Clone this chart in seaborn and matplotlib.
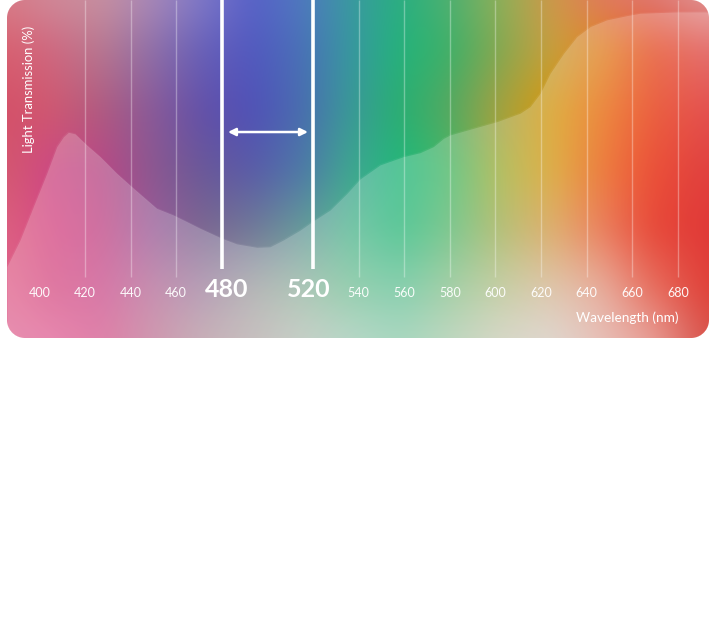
import numpy as np
import matplotlib
matplotlib.use("Agg")
import matplotlib.pyplot as plt
import matplotlib.colors as mcolors
import seaborn as sns

# ---------------- data ----------------
wavelength = [385.7, 391.5, 397.3, 403.2, 407.6, 410.5, 412.7, 415.6, 420.7, 426.6,
              433.9, 441.2, 447.1, 451.4, 458.7, 464.6, 470.4, 480.0, 486.5, 495.3,
              501.1, 507.0, 514.3, 520.1, 527.5, 534.8, 540.6, 549.4, 559.6, 566.9,
              572.8, 577.2, 580.1, 590.3, 600.6, 610.8, 615.2, 619.6, 624.0, 629.9,
              635.7, 641.6, 648.8, 657.6, 663.4, 680, 694]
transmission = [3.9, 14.0, 26.5, 39.1, 49.2, 52.9, 54.6, 54.0, 49.8, 45.4,
                39.1, 33.5, 29.1, 25.9, 23.4, 20.9, 18.4, 14.6, 12.5, 11.2,
                11.4, 14.0, 17.7, 21.2, 25.3, 31.5, 37.0, 42.3, 45.4, 46.9,
                49.2, 52.3, 53.6, 56.1, 58.6, 61.8, 64.3, 69.3, 76.9, 84.4,
                90.7, 94.5, 97.0, 98.6, 99.5, 100, 100]
tick_values = [400, 420, 440, 460, 480, 520, 540, 560, 580, 600, 620, 640, 660, 680]
grid_values = [420, 440, 460, 540, 560, 580, 600, 620, 640, 660, 680]
band = [480, 520]
x_label = "Wavelength (nm)"
y_label = "Light Transmission (%)"

# ---------------- style: background mesh colours ----------------
col_wl = np.array([386, 405, 427, 449, 471, 493, 515, 537, 559, 581, 603, 625, 647, 669, 694])
row_pct = np.array([104.5, 86, 63, 40, 18, -5, -23])
mesh = [
    ["#d87c88", "#d08898", "#c890a0", "#a888b8", "#7e78c8", "#5860c8", "#5078c0", "#3a9aa0",
     "#28b080", "#50b070", "#90b058", "#d09848", "#e07a5c", "#e07870", "#e09898"],
    ["#d86070", "#d06880", "#b87890", "#9070a8", "#6860b8", "#5258c0", "#4a70b8", "#3898a0",
     "#22b47a", "#40b068", "#88a850", "#c8a040", "#e8a050", "#ec7050", "#e47070"],
    ["#d45068", "#d05870", "#b05a80", "#8a5a98", "#6250a8", "#5050b8", "#4a6cb0", "#3a9a98",
     "#28b070", "#58a860", "#a8a040", "#e0b040", "#ee8a40", "#ec6040", "#e45050"],
    ["#d45870", "#d870a0", "#c870a0", "#8c5890", "#6a5898", "#5a5aa8", "#4e78a8", "#40a890",
     "#50c898", "#70c888", "#b8c060", "#e0b048", "#ee7e40", "#ec5038", "#e04040"],
    ["#dc6080", "#e070a0", "#d070a0", "#b080b0", "#9888a8", "#707898", "#88b0b0", "#78c8a8",
     "#58c898", "#80c890", "#b8c078", "#e0b070", "#ec8060", "#e84838", "#e03028"],
    ["#e888a8", "#e078a0", "#d878a8", "#c890b0", "#b8a0b8", "#b8b8b8", "#b0c8b8", "#98d0b0",
     "#88d0b0", "#a8d0a8", "#c8d0a8", "#e0c8b0", "#e8b0a0", "#e87060", "#e04038"],
    ["#e890b0", "#e888b0", "#e080a8", "#d098b0", "#c8b0b8", "#c8c0c0", "#c8d0c8", "#b8d8c8",
     "#a8d8c0", "#c0d8c0", "#d8d8c8", "#e0d8d0", "#e8c0b8", "#e8a098", "#d85048"],
]
veil_alpha = 0.22

W_PX, H_PX = 716, 640
CARD = (7, 0, 702, 338)  # left, top, width, height in px
XLIM = (385.79, 693.68)
YLIM = (-23, 104.5)

sns.set_theme(style="white")
plt.rcParams["font.family"] = ["Lato", "DejaVu Sans"]

fig = plt.figure(figsize=(W_PX / 100, H_PX / 100), dpi=100)
fig.patch.set_facecolor("white")
l, t, w, h = CARD
ax = fig.add_axes([l / W_PX, 1 - (t + h) / H_PX, w / W_PX, h / H_PX])
ax.set_xlim(*XLIM)
ax.set_ylim(*YLIM)
ax.axis("off")

# build anchor colours (pre-compensate anchors that sit under the white veil)
grid = np.array([[mcolors.to_rgb(c) for c in row] for row in mesh])
for i, yp in enumerate(row_pct):
    for j, xw in enumerate(col_wl):
        if yp < np.interp(xw, wavelength, transmission):
            grid[i, j] = np.clip((grid[i, j] - veil_alpha) / (1 - veil_alpha), 0, 1)

X = np.linspace(XLIM[0], XLIM[1], w)
Y = np.linspace(YLIM[1], YLIM[0], h)
tmp = np.empty((len(row_pct), w, 3))
for i in range(len(row_pct)):
    for c in range(3):
        tmp[i, :, c] = np.interp(X, col_wl, grid[i, :, c])
img = np.empty((h, w, 3))
ry = row_pct[::-1]
for jj in range(w):
    for c in range(3):
        img[:, jj, c] = np.interp(Y, ry, tmp[::-1, jj, c])

def blur(a, s):
    r = int(3 * s)
    k = np.exp(-0.5 * (np.arange(-r, r + 1) / s) ** 2)
    k /= k.sum()
    p = np.pad(a, ((r, r), (0, 0), (0, 0)), mode="edge")
    a = np.apply_along_axis(lambda v: np.convolve(v, k, mode="valid"), 0, p)
    p = np.pad(a, ((0, 0), (r, r), (0, 0)), mode="edge")
    a = np.apply_along_axis(lambda v: np.convolve(v, k, mode="valid"), 1, p)
    return a

img = np.clip(blur(img, 14), 0, 1)

# rounded corner alpha mask
rad = 18
yy, xx = np.mgrid[0:h, 0:w] + 0.5
cx = np.clip(xx, rad, w - rad)
cy = np.clip(yy, rad, h - rad)
d = np.sqrt((xx - cx) ** 2 + (yy - cy) ** 2)
alpha = np.clip(rad - d + 0.5, 0, 1)
rgba = np.dstack([img, alpha])

ax.imshow(rgba, extent=(XLIM[0], XLIM[1], YLIM[0], YLIM[1]), aspect="auto",
          interpolation="bilinear", origin="upper", zorder=0)

# lighter veil beneath the transmission curve
ax.fill_between(wavelength, transmission, YLIM[0], color="white", alpha=veil_alpha,
                lw=0, zorder=1)
sns.lineplot(x=wavelength, y=transmission, ax=ax, color="white", alpha=0.05, lw=1,
             zorder=2, legend=False)

# grid lines
for g in grid_values:
    ax.plot([g, g], [0, YLIM[1]], color="white", alpha=0.33, lw=1, zorder=3,
            solid_capstyle="butt")
for b in band:
    ax.plot([b, b], [3, YLIM[1]], color="white", lw=2.6, zorder=4, solid_capstyle="butt")

ax.annotate("", xy=(517.8, 54.7), xytext=(482.7, 54.7),
            arrowprops=dict(arrowstyle="<|-|>", color="white", lw=1.8,
                            mutation_scale=11, shrinkA=0, shrinkB=0), zorder=5)

# tick labels
for v in tick_values:
    if v in band:
        ax.text(v + (2 if v == 480 else -2), -7.4, str(v), ha="center", va="baseline",
                color="white", fontsize=18, fontweight="bold", zorder=6)
    else:
        ax.text(v, -7.4, str(v), ha="center", va="baseline", color="white",
                fontsize=9, alpha=0.95, zorder=6)

ax.text((29 - l) / w, 1 - 89 / h, y_label, rotation=90, ha="center", va="center",
        transform=ax.transAxes, color="white", fontsize=9.4, zorder=6)
ax.text((679 - l) / w, 1 - 318 / h, x_label, ha="right", va="center",
        transform=ax.transAxes, color="white", fontsize=9.8, zorder=6)

fig.savefig("out.png", dpi=100, facecolor="white")
